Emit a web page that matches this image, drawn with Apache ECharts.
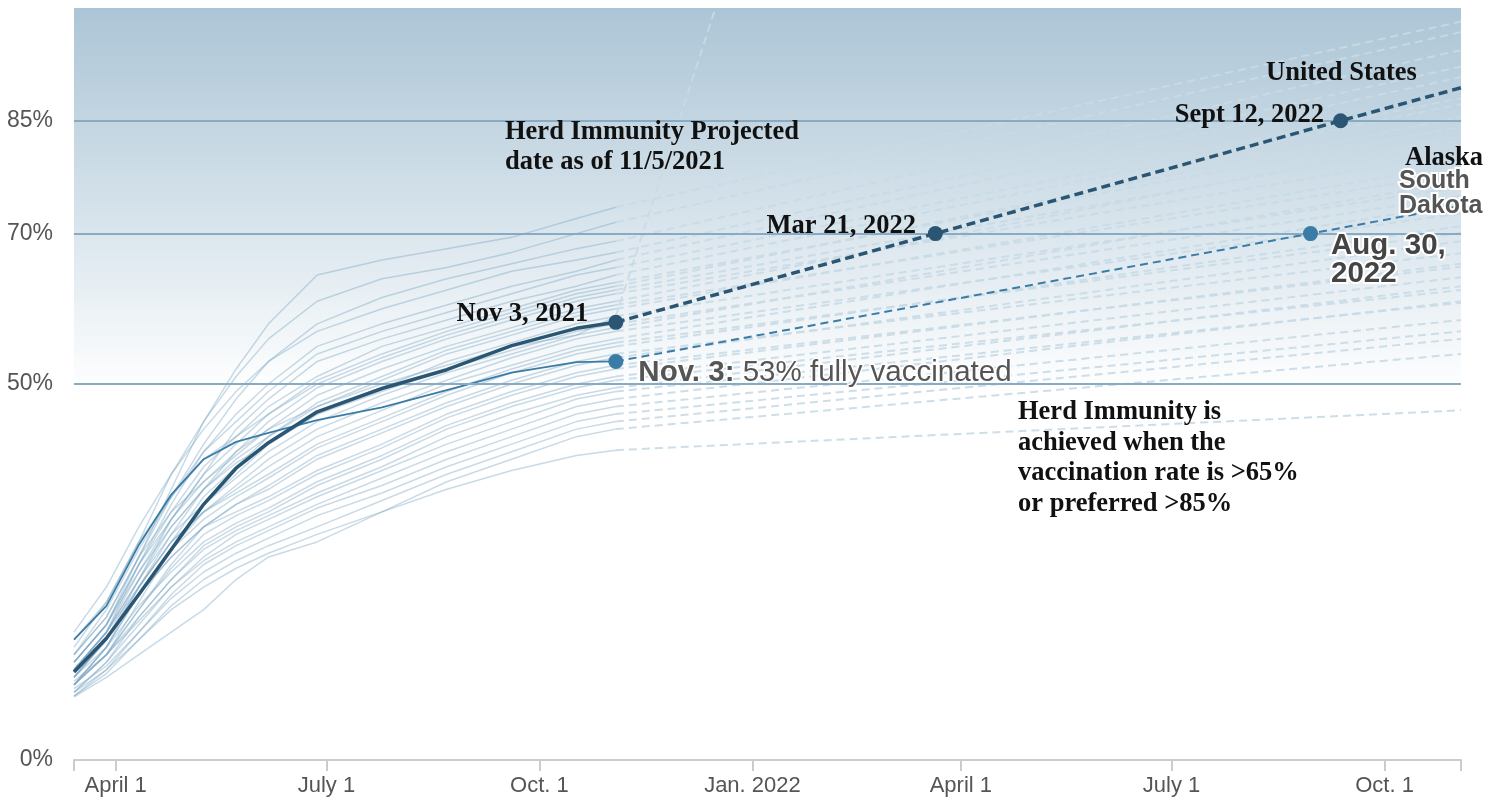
<!DOCTYPE html>
<html>
<head>
<meta charset="utf-8">
<script src="https://cdn.jsdelivr.net/npm/echarts/dist/echarts.min.js"></script>
<style>
  html, body { margin: 0; padding: 0; background: #fff; }
  #chart { width: 1502px; height: 800px; }
</style>
</head>
<body>
<div id="chart"></div>
<script>
// sampling dates of the observed (solid) part
const actualDates = ['2021-03-14', '2021-03-28', '2021-04-11', '2021-04-25', '2021-05-09', '2021-05-23',
  '2021-06-06', '2021-06-27', '2021-07-25', '2021-08-22', '2021-09-19', '2021-10-17', '2021-11-03'];

// United States, fully vaccinated %
const usValues = [11.7, 16.2, 22, 28, 34, 38.8, 42.2, 46.3, 49.4, 51.9, 55.1, 57.4, 58.2];
const usProjDates = ['2021-11-03', '2022-03-21', '2022-09-12', '2022-11-03'];
const usProjValues = [58.2, 70, 85, 89.4];
const usDotLabels = ['Nov 3, 2021', 'Mar 21, 2022', 'Sept 12, 2022'];

// South Dakota
const sdValues = [16, 20.5, 28.6, 35.3, 40, 42.3, 43.5, 45.2, 46.9, 49.2, 51.5, 52.9, 53];
const sdProjDates = ['2021-11-03', '2022-08-30', '2022-11-03'];
const sdProjValues = [53, 70, 73.7];

// other states (light lines)
const states = [
  [14, 19, 27, 36, 45, 52, 58, 64.5, 66.5, 68, 69.5, 72, 73.5],
  [16, 21, 29, 38, 45, 51, 56, 61, 64, 65.5, 67.5, 70, 71.5],
  [13, 18, 27, 35, 42, 48, 53, 58, 61.5, 64, 66, 68, 69],
  [17, 23, 31, 38, 44, 49, 53, 57, 60, 62.5, 65, 66.5, 67.5],
  [12, 17, 26, 34, 41, 46, 50, 55, 58, 60.5, 63, 65, 66.5],
  [14, 20, 28, 35, 41, 45, 49, 54, 57, 59.5, 62, 64.5, 65.5],
  [11, 16, 24, 32, 38, 44, 48, 53, 56, 58.5, 61, 63, 64.5],
  [13, 18, 26, 33, 39, 43, 47, 51, 55, 57.5, 60, 62.5, 63.5],
  [12, 17, 25, 32, 38, 42, 46, 50.5, 54, 57, 59.5, 62, 63],
  [15, 21, 29, 35, 40, 43, 46, 50, 53.5, 56.5, 59, 61.5, 62.5],
  [10, 15, 23, 30, 36, 41, 45, 49.5, 53, 56, 58.5, 61, 62],
  [13, 18, 26, 32, 37, 40.5, 44, 48.5, 52, 55, 57.5, 60, 61],
  [12, 17, 24, 31, 36, 40, 43, 47.5, 51, 54.5, 57, 59.5, 60.5],
  [14, 19, 27, 33, 37, 41, 44, 47, 50.5, 54, 56.5, 59, 60],
  [11, 16, 23, 29, 35, 39, 43, 47, 50, 52.5, 55, 56.5, 59],
  [13, 18, 25, 31, 36, 39.5, 42, 46, 49.5, 53, 55.5, 58, 59],
  [10, 15, 22, 28, 34, 38, 42, 46, 49, 52, 54.5, 57, 58],
  [12, 17, 24, 30, 34, 37.5, 41, 45, 48.5, 51.5, 54, 56.5, 57.5],
  [11, 16, 23, 29, 33, 36.5, 40, 44, 47.5, 50.5, 53.5, 56, 57],
  [10, 14, 21, 28, 33, 36, 39, 43, 46.5, 50, 52.5, 55, 56],
  [12, 17, 23, 29, 33, 35.5, 38, 42, 45.5, 49, 52, 54.5, 55.5],
  [10, 15, 22, 28, 32, 35, 37.5, 41.5, 45, 48.5, 51.5, 54, 55],
  [11, 16, 22, 27, 31, 34, 36.5, 40.5, 44, 47.5, 50.5, 53, 54],
  [10, 14, 20, 26, 31, 34, 36, 40, 43.5, 47, 50, 52.5, 53.5],
  [12, 16, 22, 27, 31, 33, 35, 38.5, 42, 46, 49, 51.5, 52.5],
  [10, 14, 20, 25.5, 30, 32.5, 34.5, 38, 41.5, 45.5, 48.5, 51, 52],
  [11, 15, 20.5, 25, 29, 31.5, 33.5, 37, 40.5, 44.5, 47.5, 50, 51],
  [9, 13, 19, 24, 28.5, 31, 33, 36.5, 40, 44, 47, 49.5, 50.5],
  [10, 14, 19, 24, 28, 30.5, 32.5, 35.5, 39, 43, 46, 48.5, 49.5],
  [9, 13, 18, 23, 27, 30, 32, 35, 38.5, 42, 45, 48, 49],
  [10.5, 14, 18.5, 23, 26.5, 29, 31, 34, 37.5, 41, 44, 47, 48],
  [8.5, 12, 17, 22, 26, 28.5, 30.5, 33.5, 36.5, 40, 43, 46, 47],
  [9.5, 12.5, 17, 21.5, 25, 27.5, 29.5, 32.5, 35.5, 39, 42, 45, 46],
  [8.5, 11.5, 16, 20.5, 24, 26.5, 28.5, 31, 34.5, 38, 41, 44, 45],
  [9, 12, 16, 20, 23, 25.5, 27.5, 30, 33, 37, 40, 43, 44],
  [8.4, 11, 14, 17, 20, 24, 27, 29, 33, 36, 38.5, 40.5, 41.2]
];
// end of each state's projection [date, value]
const stateProj = [
  ['2022-11-03', 98.2], ['2022-11-03', 96.8], ['2022-11-03', 94.4], ['2022-11-03', 92.2],
  ['2022-11-03', 90.8], ['2022-11-03', 88], ['2022-11-03', 87.2], ['2022-11-03', 84.2],
  ['2022-11-03', 85.5], ['2022-11-03', 82.4], ['2022-11-03', 80.7], ['2022-11-03', 83],
  ['2022-11-03', 78], ['2022-11-03', 79.2], ['2021-12-16', 100], ['2022-11-03', 76.2],
  ['2022-11-03', 75], ['2022-11-03', 77], ['2022-11-03', 72.7], ['2022-11-03', 74],
  ['2022-11-03', 70.1], ['2022-11-03', 71], ['2022-11-03', 67.4], ['2022-11-03', 69],
  ['2022-11-03', 65.6], ['2022-11-03', 66], ['2022-11-03', 64.2], ['2022-11-03', 62.5],
  ['2022-11-03', 63], ['2022-11-03', 60.8], ['2022-11-03', 61], ['2022-11-03', 58.5],
  ['2022-11-03', 57], ['2022-11-03', 56], ['2022-11-03', 54], ['2022-11-03', 46.5]
];

const tickDates = ['2021-04-01', '2021-07-01', '2021-10-01', '2022-01-01', '2022-04-01', '2022-07-01', '2022-10-01'];
const tickLabels = ['April 1', 'July 1', 'Oct. 1', 'Jan. 2022', 'April 1', 'July 1', 'Oct. 1'];
const yTicks = [0, 50, 70, 85];
const gridValues = [50, 70, 85];
const xStart = '2021-03-14';
const xEnd = '2022-11-03';

// day timestamp (UTC, used as a plain number on a value axis)
function ts(s) {
  const p = s.split('-').map(Number);
  return Date.UTC(p[0], p[1] - 1, p[2]);
}

const tickTs = tickDates.map(ts);
const SERIF = "'Liberation Serif', 'Times New Roman', serif";
const SANS = "'Liberation Sans', Arial, sans-serif";
const usColor = '#2a5673';
const sdColor = '#3a7ca6';

const series = [];

// horizontal reference lines
series.push({
  type: 'line',
  z: 1,
  silent: true,
  data: [[ts(xStart), 0]],
  showSymbol: false,
  lineStyle: { opacity: 0 },
  markLine: {
    silent: true,
    symbol: 'none',
    label: { show: false },
    lineStyle: { type: 'solid', color: '#88abc3', width: 2 },
    data: gridValues.map(v => ({ yAxis: v }))
  }
});

states.forEach((vals, i) => {
  series.push({
    type: 'line',
    z: 2,
    silent: true,
    showSymbol: false,
    data: actualDates.map((d, j) => [ts(d), vals[j]]),
    lineStyle: { color: 'rgba(121,165,194,0.41)', width: 1.5 }
  });
  series.push({
    type: 'line',
    z: 2,
    silent: true,
    showSymbol: false,
    data: [[ts(actualDates[actualDates.length - 1]), vals[vals.length - 1]], [ts(stateProj[i][0]), stateProj[i][1]]],
    lineStyle: { color: 'rgba(200,218,230,0.9)', width: 2, type: [8, 5] }
  });
});

// South Dakota
series.push({
  type: 'line', z: 4, silent: true, showSymbol: false,
  data: actualDates.map((d, j) => [ts(d), sdValues[j]]),
  lineStyle: { color: sdColor, width: 1.8 }
});
series.push({
  type: 'line', z: 4, silent: true, showSymbol: false,
  data: sdProjDates.map((d, j) => [ts(d), sdProjValues[j]]),
  lineStyle: { color: sdColor, width: 2, type: [8, 5] }
});

// United States
series.push({
  type: 'line', z: 5, silent: true, showSymbol: false,
  data: actualDates.map((d, j) => [ts(d), usValues[j]]),
  lineStyle: { color: usColor, width: 3.5 }
});
series.push({
  type: 'line', z: 5, silent: true, showSymbol: false,
  data: usProjDates.map((d, j) => [ts(d), usProjValues[j]]),
  lineStyle: { color: usColor, width: 3.5, type: [9, 5] }
});

// dots + labels
const usOffsets = [[20, -8], [12, -7], [9, -6]];
series.push({
  type: 'scatter', z: 6, silent: true,
  symbolSize: 15,
  itemStyle: { color: usColor, opacity: 1 },
  data: usDotLabels.map((lab, j) => ({
    value: [ts(usProjDates[j]), usProjValues[j]],
    label: {
      show: true, formatter: lab, position: 'left',
      distance: usOffsets[j][0], offset: [0, usOffsets[j][1]],
      fontFamily: SERIF, fontWeight: 'bold', fontSize: 26.5, color: '#111'
    }
  }))
});
series.push({
  type: 'scatter', z: 6, silent: true,
  symbolSize: 15,
  itemStyle: { color: sdColor, opacity: 1 },
  data: [
    {
      value: [ts(sdProjDates[0]), sdProjValues[0]],
      label: {
        show: true, position: 'right', distance: 15, offset: [0, 11],
        formatter: '{b|Nov. 3:} 53% fully vaccinated',
        fontFamily: SANS, fontSize: 29.5, color: '#555',
        textBorderColor: '#fff', textBorderWidth: 3,
        rich: { b: { fontFamily: SANS, fontSize: 29.5, fontWeight: 'bold', color: '#555', textBorderColor: '#fff', textBorderWidth: 3 } }
      }
    },
    {
      value: [ts(sdProjDates[1]), sdProjValues[1]],
      label: {
        show: true, position: 'right', distance: 13, offset: [0, 26],
        formatter: 'Aug. 30,\n2022', lineHeight: 28,
        fontFamily: SANS, fontSize: 29.5, fontWeight: 'bold', color: '#444',
        textBorderColor: '#fff', textBorderWidth: 4
      }
    }
  ]
});

const bgGradient = new echarts.graphic.LinearGradient(0, 0, 0, 1, [
  { offset: 0, color: '#acc5d6' },
  { offset: 0.25, color: '#d2e0e9' },
  { offset: 0.51, color: '#ffffff' },
  { offset: 1, color: '#ffffff' }
]);

function note(text, left, top, opts) {
  return {
    type: 'text', left: left, top: top, z: 100, silent: true,
    style: Object.assign({
      text: text, fill: '#111', font: 'bold 26.5px ' + SERIF, lineHeight: 30
    }, opts || {})
  };
}

const option = {
  animation: false,
  backgroundColor: '#fff',
  grid: {
    left: 74, right: 41, top: 8, bottom: 40,
    show: true, borderWidth: 0, backgroundColor: bgGradient
  },
  xAxis: {
    type: 'value',
    min: ts(xStart),
    max: ts(xEnd),
    axisLine: { lineStyle: { color: '#cccccc', width: 2 } },
    axisTick: {
      customValues: [ts(xStart)].concat(tickTs, [ts(xEnd)]),
      length: 11, lineStyle: { color: '#cccccc', width: 2 }
    },
    axisLabel: {
      customValues: tickTs,
      margin: 15,
      color: '#555', fontSize: 22, fontFamily: SANS,
      formatter: function (v) {
        const i = tickTs.indexOf(v);
        return i >= 0 ? tickLabels[i] : '';
      }
    },
    splitLine: { show: false }
  },
  yAxis: {
    type: 'value',
    min: 0, max: 100,
    axisLine: { show: false },
    axisTick: { show: false },
    splitLine: { show: false },
    axisLabel: {
      customValues: yTicks,
      formatter: '{value}%',
      margin: 21,
      color: '#555', fontSize: 23, fontFamily: SANS
    }
  },
  series: series,
  graphic: [
    note('Herd Immunity Projected\ndate as of 11/5/2021', 505, 117),
    note('United States', 1266, 58),
    note('Alaska', 1405, 143),
    note('South\nDakota', 1397, 167, {
      font: 'bold 25px ' + SANS, fill: '#555', lineHeight: 25,
      stroke: '#fff', lineWidth: 4
    }),
    note('Herd Immunity is\nachieved when the\nvaccination rate is >65%\nor preferred >85%', 1018, 397, { lineHeight: 30.5 })
  ]
};

const chart = echarts.init(document.getElementById('chart'), null, { renderer: 'canvas' });
chart.setOption(option);
</script>
</body>
</html>
